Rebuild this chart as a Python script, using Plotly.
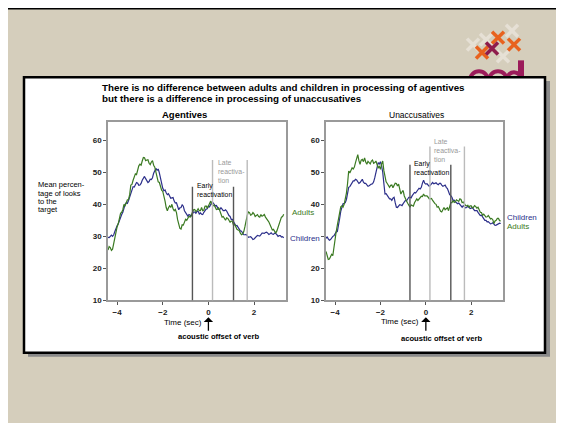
import plotly.graph_objects as go

# ---------------- data ----------------
time_sec = [round(-4.4 + 0.05 * i, 2) for i in range(155)]

agent_adults = [25.7, 26.8, 26.5, 25.6, 26.0, 28.0, 29.0, 31.5, 33.0, 34.0,
                35.8, 37.2, 37.5, 38.3, 40.0, 39.6, 40.5, 41.4, 41.5, 43.0,
                46.0, 46.2, 47.5, 48.8, 49.5, 49.3, 50.7, 52.0, 52.5, 52.2,
                53.5, 54.6, 54.5, 53.6, 53.8, 53.9, 52.8, 52.4, 53.2, 53.6,
                52.2, 51.6, 50.0, 48.0, 47.0, 46.8, 45.5, 44.4, 44.0, 42.8,
                41.0, 39.0, 38.0, 38.9, 39.5, 39.0, 40.0, 38.6, 38.0, 38.4,
                37.4, 35.2, 34.0, 32.5, 32.3, 33.6, 33.5, 34.8, 35.3, 35.0,
                35.5, 36.3, 36.0, 36.5, 37.5, 38.3, 38.4, 37.7, 38.0, 38.6,
                38.0, 38.0, 39.0, 38.0, 38.2, 39.4, 39.5, 38.8, 39.5, 40.6,
                41.0, 40.0, 39.5, 39.8, 39.0, 38.4, 38.5, 38.9, 38.0, 36.8,
                36.0, 36.2, 35.5, 35.0, 35.8, 35.6, 35.0, 34.4, 34.8, 34.6,
                33.5, 33.8, 33.0, 32.2, 32.0, 31.8, 31.0, 30.5, 30.7, 31.5,
                33.0, 35.0, 36.5, 37.6, 37.4, 36.6, 36.8, 37.4, 37.0, 36.2,
                36.5, 36.8, 36.2, 36.0, 36.8, 36.3, 36.5, 36.8, 36.0, 35.3,
                35.0, 34.5, 33.5, 33.0, 32.0, 32.2, 31.5, 31.0, 31.7, 32.9,
                34.0, 35.3, 36.0, 36.2, 36.9]
agent_children = [29.7, 29.6, 30.0, 30.4, 30.0, 30.5, 31.5, 32.8, 33.3, 33.9,
                  35.0, 36.2, 36.8, 37.5, 39.0, 40.0, 40.5, 40.3, 41.2, 42.4,
                  43.0, 44.6, 45.5, 45.4, 46.2, 46.8, 46.6, 45.9, 46.0, 46.5,
                  47.5, 48.4, 48.7, 48.0, 47.5, 46.8, 47.1, 47.8, 47.7, 48.3,
                  49.7, 50.8, 51.2, 50.6, 51.0, 49.8, 48.0, 46.0, 45.0, 44.2,
                  44.5, 43.6, 43.0, 43.3, 42.5, 41.9, 42.0, 42.1, 41.0, 40.4,
                  40.5, 39.0, 38.3, 38.9, 39.0, 39.8, 39.4, 38.0, 37.5, 37.0,
                  36.3, 36.8, 36.7, 36.4, 37.0, 37.6, 37.6, 37.2, 37.8, 37.8,
                  37.0, 37.3, 36.9, 36.8, 37.5, 38.2, 38.5, 38.6, 39.4, 39.2,
                  40.0, 40.7, 40.5, 39.8, 39.5, 39.6, 38.8, 38.4, 38.4, 38.9,
                  38.5, 38.0, 38.0, 38.3, 37.9, 37.0, 36.5, 36.2, 35.3, 35.3,
                  34.5, 33.6, 33.3, 33.4, 32.8, 32.0, 31.7, 31.6, 31.0, 30.5,
                  30.5, 30.6, 30.2, 29.7, 29.8, 29.9, 29.5, 29.0, 29.2, 29.6,
                  29.8, 30.3, 30.2, 30.1, 30.5, 31.0, 31.0, 30.9, 31.2, 31.3,
                  31.0, 30.6, 30.8, 31.1, 30.7, 30.6, 31.0, 30.9, 30.5, 30.0,
                  30.2, 30.2, 29.8, 29.9, 29.5]
unacc_adults = [25.3, 24.0, 22.8, 22.9, 23.5, 24.4, 24.0, 27.0, 30.0, 31.5,
                33.5, 35.5, 38.0, 39.2, 39.5, 39.1, 40.0, 41.5, 43.5, 46.5,
                50.4, 49.8, 50.5, 51.4, 51.0, 51.6, 53.0, 54.4, 55.5, 53.6,
                52.5, 53.8, 54.0, 53.3, 54.5, 53.2, 52.5, 53.4, 53.0, 52.6,
                53.5, 53.8, 52.8, 53.0, 53.5, 52.0, 51.4, 51.8, 50.9, 52.6,
                53.5, 50.5, 48.3, 47.0, 46.5, 46.0, 45.3, 45.9, 46.0, 45.2,
                45.8, 46.6, 46.5, 45.7, 46.3, 44.5, 43.2, 43.9, 44.3, 42.6,
                41.5, 41.0, 40.3, 39.5, 39.1, 39.8, 39.7, 39.4, 40.5, 41.4,
                41.7, 41.2, 41.7, 42.3, 42.5, 42.4, 43.2, 42.6, 42.5, 42.6,
                42.2, 41.7, 41.7, 41.8, 41.2, 40.5, 40.2, 40.0, 39.1, 39.3,
                38.5, 37.8, 37.6, 38.5, 39.0, 38.3, 38.5, 38.9, 38.0, 39.0,
                40.5, 40.5, 41.2, 40.6, 40.8, 41.4, 41.2, 40.9, 41.7, 41.5,
                40.5, 40.7, 40.2, 39.6, 39.5, 39.7, 39.1, 39.5, 39.5, 38.9,
                39.1, 39.6, 39.3, 38.8, 39.1, 38.0, 37.5, 37.4, 36.6, 36.9,
                36.5, 36.0, 36.1, 36.5, 36.0, 35.4, 35.6, 35.2, 34.0, 34.8,
                35.0, 35.6, 35.6, 34.9, 34.8]
unacc_children = [29.4, 29.8, 29.2, 28.8, 29.0, 29.7, 30.0, 30.2, 30.8, 31.4,
                  31.5, 33.0, 35.5, 37.8, 39.5, 40.2, 40.3, 40.5, 41.5, 43.6,
                  45.3, 45.5, 46.2, 47.0, 47.3, 47.3, 47.8, 47.6, 47.0, 46.5,
                  46.8, 47.5, 47.8, 46.9, 46.5, 46.5, 46.0, 45.6, 45.8, 46.2,
                  46.3, 46.4, 47.0, 48.3, 50.0, 51.8, 53.0, 52.6, 53.3, 52.0,
                  50.0, 46.5, 43.2, 43.3, 42.7, 42.0, 41.7, 41.7, 41.2, 41.9,
                  42.2, 40.5, 39.1, 39.0, 39.5, 39.9, 39.8, 39.6, 40.2, 40.9,
                  41.2, 41.1, 41.7, 42.2, 42.2, 42.0, 42.7, 43.4, 43.7, 43.5,
                  44.0, 44.8, 45.0, 44.8, 45.3, 46.6, 47.5, 46.6, 46.3, 46.4,
                  45.8, 45.6, 46.0, 46.6, 46.8, 46.4, 46.5, 46.7, 46.3, 46.1,
                  46.5, 46.5, 46.0, 45.6, 45.8, 46.0, 45.3, 44.9, 44.0, 43.0,
                  42.7, 42.2, 41.2, 41.3, 40.8, 40.3, 40.2, 40.4, 40.0, 39.4,
                  39.1, 39.6, 39.3, 38.9, 39.0, 39.4, 39.1, 38.7, 38.8, 39.0,
                  38.5, 38.0, 38.0, 38.1, 37.5, 36.8, 36.5, 36.6, 36.1, 35.4,
                  35.0, 35.0, 34.5, 34.6, 34.3, 33.9, 34.0, 34.2, 33.8, 33.4,
                  33.5, 33.7, 33.8, 34.1, 34.0]

# window markers (sec) and their top heights (% looks)
early_lines = [-0.7, 1.1]
late_lines = [0.18, 1.7]
early_top = [45.5, 52.3]
late_top = [53.8, 58.0]

y_ticks = [10, 20, 30, 40, 50, 60]
y_ticktext_left = ["10", "20", "30", "40", "50", "60"]
y_ticktext_right = ["10", "20", "", "40", "50", "60"]   # "30" is hidden under the "Children" label
x_ticks = [-4, -2, 0, 2]
x_range = [-4.4, 3.4]
y_range = [10, 65.8]

GREEN = "#3B7A22"
BLUE = "#2C2F8A"
FONT = "Liberation Sans, Arial, sans-serif"
OFF = 8                 # page body margin
W, H = 564 - OFF, 423 - OFF


def px(x):
    return (x - OFF) / W


def py(y):
    return 1 - (y - OFF) / H


fig = go.Figure()

panels = [("x", "y", agent_adults, agent_children),
          ("x2", "y2", unacc_adults, unacc_children)]
for xa, ya, ad, ch in panels:
    fig.add_trace(go.Scatter(x=time_sec, y=ch, mode="lines", xaxis=xa, yaxis=ya,
                             line=dict(color=BLUE, width=1.2), showlegend=False))
    fig.add_trace(go.Scatter(x=time_sec, y=ad, mode="lines", xaxis=xa, yaxis=ya,
                             line=dict(color=GREEN, width=1.2), showlegend=False))

shapes = []
# slide background + frame
shapes.append(dict(type="rect", xref="paper", yref="paper", x0=px(7), x1=px(560),
                   y0=py(440), y1=py(8.5), fillcolor="#D5CEBC",
                   line=dict(color="black", width=2), layer="below"))


def cross(cx, cy, col, s=6, w=3.5):
    return [dict(type="line", xref="paper", yref="paper", x0=px(cx - s), y0=py(cy - s),
                 x1=px(cx + s), y1=py(cy + s), line=dict(color=col, width=w), layer="below"),
            dict(type="line", xref="paper", yref="paper", x0=px(cx - s), y0=py(cy + s),
                 x1=px(cx + s), y1=py(cy - s), line=dict(color=col, width=w), layer="below")]


for cx, cy in [(473, 45), (512, 31), (503, 57), (486, 40)]:
    shapes += cross(cx, cy, "#E6E0D5")
for cx, cy in [(498, 38), (514, 45), (482, 53)]:
    shapes += cross(cx, cy, "#E8621E")
shapes += cross(492, 49, "#8E1C4C")
# partly hidden "ccd" letters
MAG = "#9B1B5A"
for cx in [479, 498]:
    shapes.append(dict(type="circle", xref="paper", yref="paper", x0=px(cx - 9), x1=px(cx + 9),
                       y0=py(90), y1=py(72), line=dict(color=MAG, width=4), layer="below"))
shapes.append(dict(type="circle", xref="paper", yref="paper", x0=px(507), x1=px(521),
                   y0=py(88), y1=py(73), line=dict(color=MAG, width=4), layer="below"))
shapes.append(dict(type="rect", xref="paper", yref="paper", x0=px(518), x1=px(524),
                   y0=py(80), y1=py(61), fillcolor=MAG, line=dict(width=0), layer="below"))
# white panel with shadow
shapes.append(dict(type="rect", xref="paper", yref="paper", x0=px(28), x1=px(550),
                   y0=py(361), y1=py(82), fillcolor="#8A8A8A", line=dict(width=0), layer="below"))
shapes.append(dict(type="rect", xref="paper", yref="paper", x0=px(24), x1=px(545),
                   y0=py(357), y1=py(78), fillcolor="white", line=dict(color="black", width=2.5),
                   layer="below"))
# reactivation windows
for i, (xa, ya) in enumerate([("x", "y"), ("x2", "y2")]):
    for xv in early_lines:
        shapes.append(dict(type="line", xref=xa, yref=ya, x0=xv, x1=xv, y0=y_range[0],
                           y1=early_top[i], line=dict(color="#555555", width=1.4)))
    for xv in late_lines:
        shapes.append(dict(type="line", xref=xa, yref=ya, x0=xv, x1=xv, y0=y_range[0],
                           y1=late_top[i], line=dict(color="#BBBBBB", width=1.4)))

ann = []


def txt(x, y, t, size=8, color="black", anchor="left", bold=False, align="left"):
    ann.append(dict(x=px(x), y=py(y), xref="paper", yref="paper", text=("<b>%s</b>" % t) if bold else t,
                    showarrow=False, xanchor=anchor, yanchor="middle", align=align,
                    font=dict(family=FONT, size=size, color=color)))


txt(100, 88, "There is no difference between adults and children in processing of agentives", 9.8, bold=True)
txt(100, 100, "but there is a difference in processing of unaccusatives", 9.8, bold=True)
txt(184, 116, "Agentives", 9.5, anchor="center", bold=True)
txt(416, 116, "Unaccusatives", 8.5, anchor="center")
for i, line in enumerate(["Mean percen-", "tage of looks", "to the", "target"]):
    txt(36, 187 + i * 8.3, line, 7.5)
# series labels
txt(290, 215, "Adults", 8, GREEN)
txt(288, 241, "Children", 8, BLUE)
txt(505, 220, "Children", 8, BLUE)
txt(505, 229, "Adults", 8, GREEN)
# window labels
txt(195, 192, "Early<br>reactivation", 6.9)
txt(216, 173, "Late<br>reactiva-<br>tion", 6.9, "#999999")
txt(412, 170, "Early<br>reactivation", 6.9)
txt(432, 152, "Late<br>reactiva-<br>tion", 6.9, "#999999")
# x labels
txt(162, 326, "Time (sec)", 8)
txt(379, 325, "Time (sec)", 8)
txt(176, 341, "acoustic offset of verb", 7.6, bold=True)
txt(399, 343, "acoustic offset of verb", 7.6, bold=True)
for xa in ["x", "x2"]:
    ann.append(dict(x=0, xref=xa, y=py(321), yref="paper", text="", showarrow=True,
                    ax=0, ay=15, arrowhead=1, arrowsize=1.2, arrowwidth=1.3, arrowcolor="black"))

axis_common = dict(showline=True, linecolor="#9A9A9A", linewidth=1.5, mirror=True,
                   showgrid=False, zeroline=False, ticks="outside", ticklen=3,
                   tickcolor="#555555", tickfont=dict(family=FONT, size=8, color="#222222", weight="bold"))

fig.update_layout(
    width=W, height=H, margin=dict(l=0, r=0, t=0, b=0),
    paper_bgcolor="white", plot_bgcolor="rgba(0,0,0,0)",
    shapes=shapes, annotations=ann,
    xaxis=dict(domain=[px(108), px(286)], range=x_range, tickvals=x_ticks, anchor="y", **axis_common),
    yaxis=dict(domain=[py(304), py(123)], range=y_range, tickvals=y_ticks,
               ticktext=y_ticktext_left, anchor="x", **axis_common),
    xaxis2=dict(domain=[px(326), px(503)], range=x_range, tickvals=x_ticks, anchor="y2", **axis_common),
    yaxis2=dict(domain=[py(304), py(123)], range=y_range, tickvals=y_ticks,
                ticktext=y_ticktext_right, anchor="x2", **axis_common),
)

fig.write_html("out.html")
